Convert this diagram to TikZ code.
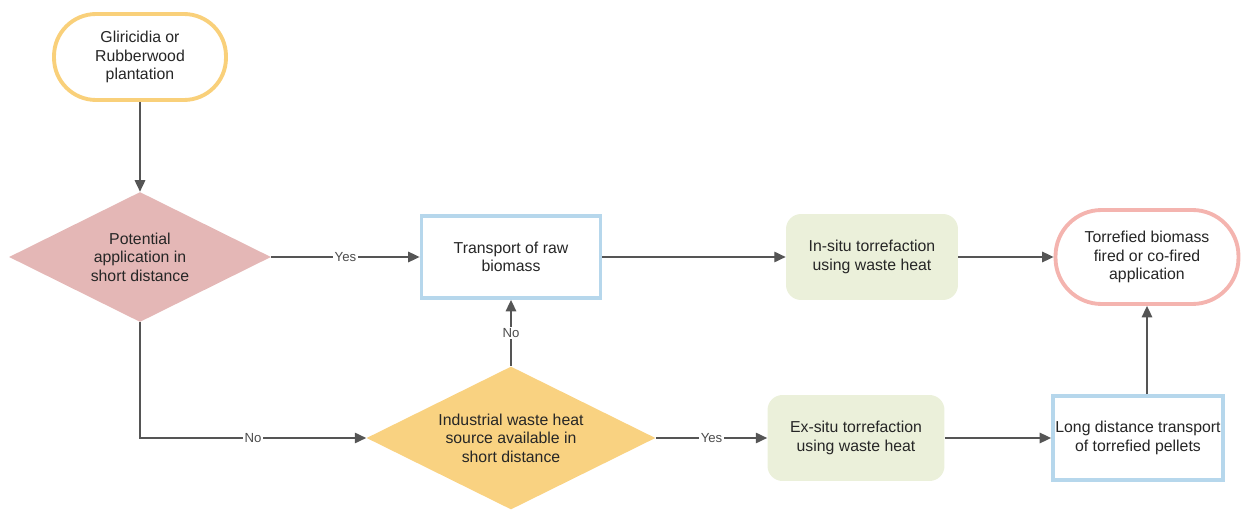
\documentclass[tikz,border=0pt]{standalone}
\usepackage{fontspec}
\setmainfont{Liberation Sans}
\usetikzlibrary{positioning, arrows.meta, shapes.geometric}
\definecolor{startyellow}{HTML}{F9D07A}
\definecolor{decisionpink}{HTML}{E4B7B6}
\definecolor{decisionorange}{HTML}{F9D281}
\definecolor{transportblue}{HTML}{B6D7EC}
\definecolor{processgreen}{HTML}{EBF0DA}
\definecolor{endpink}{HTML}{F4B4AF}
\definecolor{arrowgray}{HTML}{555555}

\begin{document}
\begin{tikzpicture}[
    x=0.02cm, y=-0.02cm,
    every node/.style={font=\fontsize{9}{10.6}\selectfont, text=black!85, align=center},
    terminal/.style={rectangle, line width=2.2pt, fill=white, inner sep=2pt},
    decision/.style={diamond, aspect=2, inner sep=0pt},
    transport/.style={rectangle, draw=transportblue, line width=2.2pt, fill=white, inner sep=1pt},
    process/.style={rectangle, rounded corners=0.3cm, fill=processgreen, minimum width=3.48cm, minimum height=1.72cm},
    arrow/.style={-{Triangle[length=6.5pt, width=6pt]}, draw=arrowgray, line width=0.8pt},
    yesno/.style={font=\fontsize{7.5}{9}\selectfont, text=black!70, fill=white, inner sep=1pt}
]
\useasboundingbox (0,0) rectangle (1242,510);

% Start and end
\node[terminal, draw=startyellow, rounded corners=0.84cm, minimum width=3.44cm, minimum height=1.72cm] (start) at (140, 57) {Gliricidia or\\Rubberwood\\plantation};
\node[terminal, draw=endpink, rounded corners=0.92cm, minimum width=3.66cm, minimum height=1.88cm] (final) at (1147, 257) {Torrefied biomass\\fired or co-fired\\application};

% Decisions
\node[decision, fill=decisionpink, minimum width=5.24cm, minimum height=2.6cm] (dec-app) at (140, 257) {Potential\\application in\\short distance};
\node[decision, fill=decisionorange, minimum width=5.78cm, minimum height=2.86cm] (dec-heat) at (511, 438) {Industrial waste heat\\source available in\\short distance};

% Transport boxes
\node[transport, minimum width=3.58cm, minimum height=1.64cm] (raw) at (511, 257) {Transport of raw\\biomass};
\node[transport, minimum width=3.40cm, minimum height=1.68cm] (longdist) at (1138, 438) {Long distance transport\\of torrefied pellets};

% Torrefaction
\node[process, minimum width=3.44cm] (insitu) at (872, 257) {In-situ torrefaction\\using waste heat};
\node[process, minimum width=3.54cm] (exsitu) at (856, 438) {Ex-situ torrefaction\\using waste heat};

% Arrows
\draw[arrow] (start) -- (dec-app);
\draw[arrow] (dec-app) -- node[yesno] {Yes} (raw);
\draw[arrow] (dec-app.south) |- node[yesno, pos=0.75] {No} (dec-heat.west);
\draw[arrow] (dec-heat) -- node[yesno] {No} (raw);
\draw[arrow] (dec-heat) -- node[yesno] {Yes} (exsitu);
\draw[arrow] (raw) -- (insitu);
\draw[arrow] (insitu) -- (final);
\draw[arrow] (exsitu) -- (longdist);
\draw[arrow] (longdist.north -| final.south) -- (final.south);

\end{tikzpicture}
\end{document}
